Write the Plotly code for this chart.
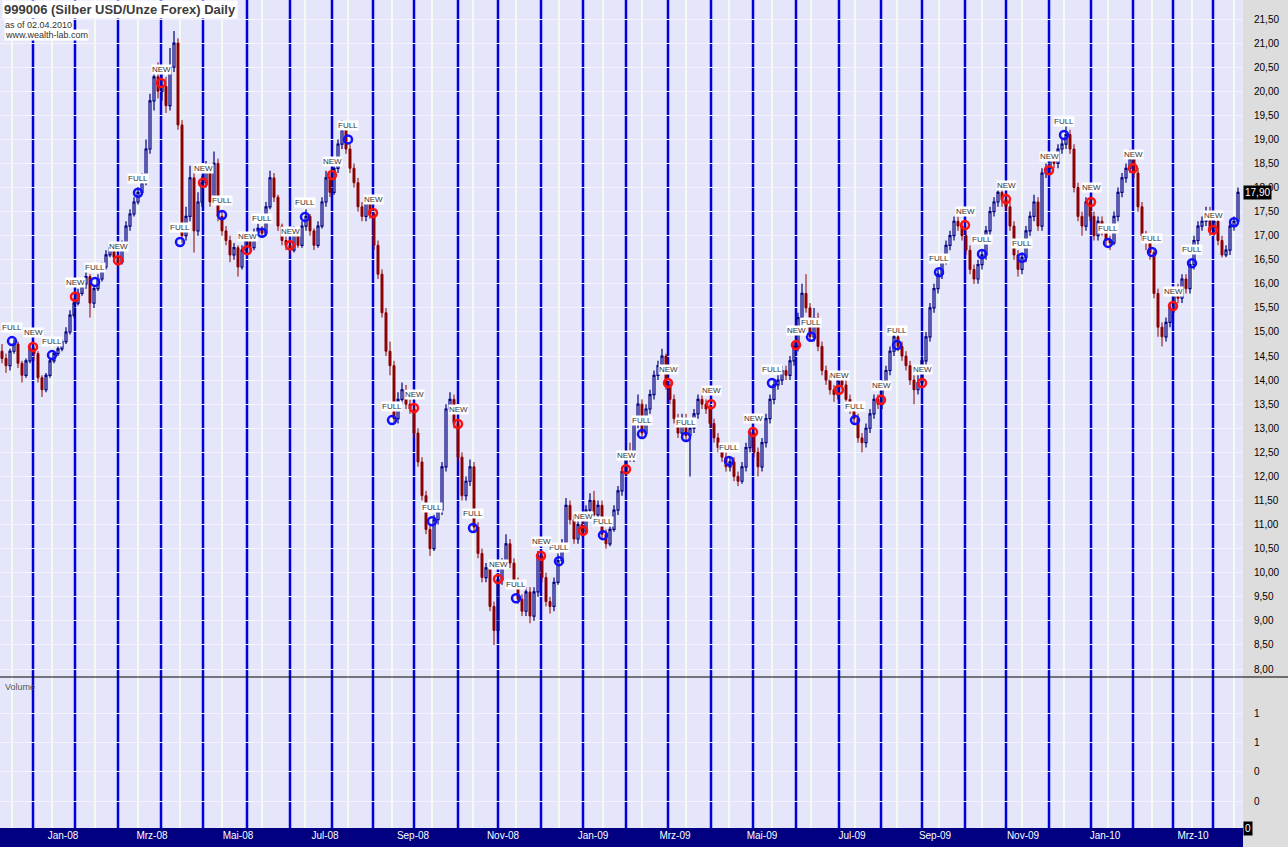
import plotly.graph_objects as go

# Silver daily chart (2-day bars), bar index on x
first_open = 14.60
closes = [
    14.45, 14.30, 14.60, 14.75, 14.35, 14.10, 14.40, 14.65, 14.55, 14.05,
    13.80, 14.10, 14.40, 14.55, 14.65, 14.80, 15.00, 15.35, 15.60, 15.80,
    16.00, 16.15, 15.60, 15.90, 16.10, 16.35, 16.60, 16.75, 16.55, 16.45,
    16.80, 17.20, 17.45, 17.70, 17.90, 18.10, 18.80, 19.80, 20.30, 20.00,
    20.10, 19.70, 20.50, 21.00, 19.30, 17.00, 17.40, 18.20, 17.10, 17.70,
    18.10, 18.40, 17.70, 18.50, 17.40, 17.10, 16.90, 16.60, 16.75, 16.35,
    16.70, 16.90, 16.75, 17.05, 17.15, 17.05, 17.60, 18.20, 17.80, 17.20,
    16.90, 16.80, 16.70, 17.10, 16.80, 17.20, 17.40, 17.10, 16.80, 17.20,
    17.70, 18.20, 17.90, 18.40, 18.90, 19.20, 18.80, 18.40, 18.10, 17.60,
    17.40, 17.70, 17.45, 16.80, 16.20, 15.40, 14.60, 14.30, 13.20, 13.60,
    13.80, 13.50, 13.40, 12.90, 12.30, 11.60, 10.90, 10.50, 11.10, 11.30,
    12.20, 13.40, 13.60, 13.10, 12.40, 11.60, 11.90, 12.20, 10.95, 10.40,
    9.90, 10.10, 9.30, 8.80, 9.85, 10.20, 10.60, 10.20, 9.80, 9.45,
    9.20, 9.60, 9.10, 9.60, 10.35, 9.90, 9.40, 9.30, 9.80, 10.25,
    10.60, 11.40, 11.10, 10.70, 11.00, 10.85, 11.30, 11.50, 11.20, 11.40,
    10.80, 10.60, 10.90, 11.30, 11.70, 12.10, 12.50, 12.40, 13.10, 13.50,
    12.90, 13.40, 13.70, 14.10, 14.30, 14.50, 13.90, 13.60, 13.20, 12.90,
    13.20, 12.85, 13.00, 13.30, 13.60, 13.50, 13.40, 13.10, 12.80, 12.60,
    12.40, 12.20, 12.30, 12.00, 11.90, 12.20, 12.60, 12.90, 12.50, 12.20,
    12.70, 13.20, 13.60, 13.90, 14.00, 14.20, 14.10, 14.40, 14.70, 15.30,
    15.80, 15.50, 14.90, 15.30, 14.70, 14.20, 14.00, 13.80, 13.70, 14.00,
    13.90, 13.60, 13.40, 13.20, 12.80, 12.70, 13.00, 13.30, 13.60, 13.50,
    13.90, 14.20, 14.60, 14.90, 14.70, 14.50, 14.30, 14.00, 13.80, 13.95,
    14.40, 14.90, 15.50, 15.90, 16.20, 16.50, 16.80, 17.00, 17.30, 17.20,
    17.00, 16.70, 16.30, 16.10, 16.40, 16.60, 17.10, 17.50, 17.70, 17.90,
    17.75, 17.60, 17.20, 16.60, 16.30, 16.55, 17.10, 17.40, 17.70, 17.20,
    18.30, 18.40, 18.60, 18.50, 18.80, 18.90, 19.10, 18.80, 18.00, 17.40,
    17.20, 17.70, 17.40, 17.00, 17.30, 17.10, 16.90, 16.85, 17.40, 17.90,
    18.20, 18.40, 18.60, 18.30, 17.60, 17.00, 16.90, 16.65, 15.80, 15.10,
    14.90, 15.20, 15.50, 15.80, 15.70, 16.10, 15.90, 16.40, 16.90, 17.20,
    17.30, 17.50, 17.10, 17.30, 16.90, 16.60, 16.70, 17.20, 17.30, 17.90,
]
highs = [
    14.75, 14.55, 14.65, 14.85, 14.80, 14.40, 14.45, 14.75, 14.70, 14.60,
    14.10, 14.15, 14.45, 14.60, 14.75, 14.85, 15.10, 15.45, 15.70, 15.90,
    16.10, 16.30, 16.20, 15.95, 16.20, 16.45, 16.70, 16.85, 16.80, 16.60,
    16.90, 17.30, 17.55, 17.80, 18.00, 18.30, 19.00, 19.95, 20.50, 20.60,
    20.50, 20.30, 20.90, 21.25, 21.10, 19.40, 17.60, 18.45, 18.30, 17.90,
    18.25, 18.55, 18.50, 18.75, 18.60, 17.50, 17.20, 17.00, 16.85, 16.80,
    16.80, 17.00, 16.95, 17.15, 17.25, 17.20, 17.70, 18.35, 18.30, 17.85,
    17.25, 17.00, 16.90, 17.20, 17.15, 17.30, 17.55, 17.45, 17.15, 17.30,
    17.80, 18.35, 18.30, 18.50, 19.00, 19.40, 19.30, 18.90, 18.50, 18.20,
    17.70, 17.80, 17.80, 17.50, 16.90, 16.30, 15.50, 14.80, 14.40, 13.75,
    13.95, 13.90, 13.60, 13.50, 13.00, 12.40, 11.70, 11.00, 11.20, 11.40,
    12.30, 13.50, 13.75, 13.70, 13.20, 12.50, 12.00, 12.35, 12.30, 11.05,
    10.50, 10.20, 10.20, 9.40, 9.95, 10.30, 10.80, 10.70, 10.30, 9.90,
    9.55, 9.70, 9.70, 9.70, 10.45, 10.40, 10.00, 9.50, 9.90, 10.40,
    10.70, 11.55, 11.50, 11.20, 11.10, 11.10, 11.40, 11.65, 11.70, 11.50,
    11.50, 10.90, 11.00, 11.40, 11.80, 12.20, 12.60, 12.70, 13.20, 13.70,
    13.60, 13.50, 13.80, 14.20, 14.40, 14.65, 14.55, 14.00, 13.70, 13.30,
    13.30, 13.30, 13.10, 13.40, 13.70, 13.70, 13.60, 13.50, 13.20, 12.90,
    12.70, 12.50, 12.40, 12.40, 12.10, 12.30, 12.70, 13.00, 13.00, 12.60,
    12.80, 13.30, 13.70, 14.00, 14.10, 14.30, 14.30, 14.50, 14.80, 15.40,
    16.00, 16.20, 15.60, 15.50, 15.40, 14.80, 14.30, 14.10, 13.90, 14.10,
    14.10, 14.00, 13.70, 13.50, 13.30, 12.90, 13.10, 13.40, 13.70, 13.70,
    14.00, 14.30, 14.70, 15.00, 15.00, 14.80, 14.60, 14.40, 14.10, 14.10,
    14.50, 15.00, 15.60, 16.00, 16.30, 16.60, 16.90, 17.10, 17.40, 17.40,
    17.30, 17.10, 16.80, 16.40, 16.50, 16.70, 17.20, 17.60, 17.80, 18.00,
    18.00, 17.90, 17.70, 17.30, 16.70, 16.65, 17.20, 17.50, 17.85, 17.80,
    18.40, 18.50, 18.70, 18.70, 18.90, 19.00, 19.30, 19.20, 18.90, 18.10,
    17.50, 17.80, 17.80, 17.50, 17.40, 17.40, 17.20, 17.00, 17.50, 18.00,
    18.30, 18.50, 18.80, 18.70, 18.40, 17.70, 17.10, 17.00, 16.70, 15.90,
    15.20, 15.30, 15.60, 15.90, 16.00, 16.20, 16.20, 16.50, 17.00, 17.30,
    17.40, 17.60, 17.60, 17.40, 17.40, 17.00, 16.80, 17.30, 17.40, 18.00,
]
lows = [
    14.35, 14.15, 14.20, 14.55, 14.25, 13.95, 14.05, 14.35, 14.40, 13.95,
    13.65, 13.75, 14.05, 14.35, 14.50, 14.60, 14.75, 14.95, 15.30, 15.55,
    15.75, 15.90, 15.30, 15.50, 15.85, 16.05, 16.30, 16.55, 16.45, 16.35,
    16.40, 16.75, 17.10, 17.40, 17.65, 17.85, 18.05, 18.70, 19.60, 19.85,
    19.80, 19.55, 19.60, 20.40, 19.20, 16.85, 16.90, 17.30, 16.65, 17.00,
    17.60, 18.00, 17.60, 17.65, 17.30, 17.00, 16.80, 16.45, 16.50, 16.15,
    16.30, 16.60, 16.65, 16.70, 17.00, 16.95, 17.00, 17.55, 17.70, 17.10,
    16.80, 16.70, 16.60, 16.65, 16.75, 16.75, 17.10, 17.00, 16.70, 16.75,
    17.15, 17.60, 17.80, 17.85, 18.30, 18.80, 18.70, 18.30, 18.00, 17.50,
    17.30, 17.30, 17.35, 16.70, 16.10, 15.30, 14.50, 14.10, 13.10, 13.10,
    13.50, 13.40, 13.30, 12.80, 12.20, 11.50, 10.80, 10.35, 10.45, 11.00,
    11.20, 12.10, 13.30, 13.00, 12.30, 11.50, 11.50, 11.80, 10.85, 10.30,
    9.80, 9.80, 9.20, 8.50, 8.70, 9.75, 10.10, 10.10, 9.70, 9.35,
    9.10, 9.10, 8.95, 9.00, 9.50, 9.80, 9.30, 9.15, 9.20, 9.75,
    10.20, 10.50, 11.00, 10.60, 10.60, 10.75, 10.80, 11.20, 11.10, 11.10,
    10.70, 10.50, 10.55, 10.85, 11.20, 11.60, 12.00, 12.30, 12.30, 13.00,
    12.80, 12.85, 13.30, 13.60, 14.00, 14.20, 13.80, 13.50, 13.10, 12.80,
    12.80, 12.75, 12.00, 12.90, 13.20, 13.40, 13.30, 13.00, 12.70, 12.50,
    12.30, 12.10, 12.10, 11.90, 11.80, 11.85, 12.10, 12.50, 12.40, 12.00,
    12.10, 12.60, 13.10, 13.50, 13.80, 13.90, 14.00, 14.00, 14.30, 14.60,
    15.20, 15.40, 14.80, 14.80, 14.60, 14.10, 13.90, 13.70, 13.55, 13.60,
    13.80, 13.50, 13.30, 13.10, 12.70, 12.50, 12.60, 12.90, 13.20, 13.40,
    13.40, 13.80, 14.10, 14.50, 14.60, 14.40, 14.20, 13.90, 13.50, 13.70,
    13.90, 14.30, 14.80, 15.40, 15.80, 16.10, 16.40, 16.70, 16.90, 17.10,
    16.90, 16.60, 16.20, 16.00, 16.00, 16.30, 16.50, 17.00, 17.40, 17.60,
    17.60, 17.50, 17.10, 16.50, 16.15, 16.20, 16.45, 17.00, 17.30, 17.10,
    17.10, 18.20, 18.30, 18.40, 18.40, 18.70, 18.80, 18.70, 17.90, 17.30,
    17.00, 17.10, 17.30, 16.90, 16.90, 17.00, 16.80, 16.70, 16.80, 17.30,
    17.80, 18.10, 18.30, 18.20, 17.50, 16.90, 16.70, 16.50, 15.70, 14.90,
    14.70, 14.80, 15.10, 15.40, 15.60, 15.60, 15.80, 15.80, 16.30, 16.80,
    17.10, 17.20, 17.00, 17.00, 16.80, 16.55, 16.55, 16.60, 17.10, 17.25,
]
opens = [first_open] + closes[:-1]
bars = list(range(len(closes)))

# moon phases (bar positions) and the price where each marker sits
new_moon_x = [7.75, 18.25, 29, 39.75, 50.25, 61.25, 72, 82.5, 92.75, 103, 114, 124, 134.75,
              145.25, 156, 166.5, 177.25, 187.75, 198.5, 209.25, 219.75, 230, 240.75, 251,
              261.75, 272.25, 282.75, 292.75, 302.75]
new_moon_price = [14.69, 15.73, 16.49, 20.17, 18.10, 16.70, 16.80, 18.26, 17.47, 13.42, 13.09,
                  9.87, 10.35, 10.87, 12.15, 13.94, 13.50, 12.92, 14.73, 13.80, 13.59, 13.94,
                  17.22, 17.76, 18.36, 17.70, 18.40, 15.54, 17.12]
full_moon_x = [2.5, 12.5, 23.25, 34, 44.5, 55, 65, 75.75, 86.5, 97.5, 107.5, 117.75, 128.5,
               139.25, 150.25, 160, 171, 181.75, 192.5, 202.25, 213.25, 223.75, 234.25, 245,
               255, 265.5, 276.5, 287.5, 297.5, 308]
full_moon_price = [14.81, 14.52, 16.04, 17.89, 16.87, 17.43, 17.06, 17.39, 19.00, 13.17, 11.07,
                   10.93, 9.47, 10.24, 10.78, 12.88, 12.82, 12.32, 13.94, 14.90, 13.17, 14.73,
                   16.24, 16.62, 16.54, 19.09, 16.85, 16.66, 16.43, 17.28]

month_pos = [15.25, 37.5, 59, 80.75, 102.75, 125.25, 147.75, 168.25, 190, 212.5, 233.25,
             255.25, 275.75, 297.75]
month_labels = ["Jan-08", "Mrz-08", "Mai-08", "Jul-08", "Sep-08", "Nov-08", "Jan-09",
                "Mrz-09", "Mai-09", "Jul-09", "Sep-09", "Nov-09", "Jan-10", "Mrz-10"]

price_ticks = [8 + 0.5 * k for k in range(28)]
vol_ticks = [0.2, 0.4, 0.6, 0.8]
vol_labels = ["0", "0", "1", "1"]

FONT = "Liberation Sans, Arial, sans-serif"
split = 151 / 828  # volume pane height share

fig = go.Figure()

fig.add_trace(
    go.Candlestick(
        x=bars, open=opens, high=highs, low=lows, close=closes,
        increasing=dict(line=dict(color="#000080", width=1.2), fillcolor="rgba(0,0,0,0)"),
        decreasing=dict(line=dict(color="#8b0000", width=1), fillcolor="#8b0000"),
        whiskerwidth=0, showlegend=False, hoverinfo="skip",
    )
)

fig.add_trace(
    go.Scatter(
        x=full_moon_x, y=full_moon_price, mode="markers", showlegend=False,
        marker=dict(symbol="circle-open", size=8, color="#1010ff", line=dict(width=2.5)),
    )
)
fig.add_trace(
    go.Scatter(
        x=new_moon_x, y=new_moon_price, mode="markers", showlegend=False,
        marker=dict(symbol="circle-open", size=8, color="#ff1010", line=dict(width=2.5)),
    )
)

# empty volume pane
fig.add_trace(go.Scatter(x=[], y=[], yaxis="y2", showlegend=False))

shapes = []
for x in full_moon_x:
    shapes.append(dict(type="line", xref="x", yref="paper", x0=x, x1=x, y0=0, y1=1,
                       line=dict(color="#f4fcf0", width=2), layer="below"))
for x in new_moon_x:
    shapes.append(dict(type="line", xref="x", yref="paper", x0=x, x1=x, y0=0, y1=1,
                       line=dict(color="#0000dd", width=2.5), layer="below"))
# pane separator
shapes.append(dict(type="line", xref="paper", yref="paper", x0=0, x1=1.04, y0=split, y1=split,
                   line=dict(color="black", width=1), layer="above"))
# navy date band
shapes.append(dict(type="rect", xref="paper", yref="paper", x0=0, x1=1, y0=-19 / 828, y1=0,
                   fillcolor="#000080", line=dict(width=0), layer="below"))

annotations = []
for x, p in zip(full_moon_x[:-1], full_moon_price[:-1]):
    annotations.append(dict(x=x, y=p, text="FULL", showarrow=False, yshift=14,
                            font=dict(size=8, color="#333333", family=FONT),
                            bgcolor="white", borderpad=0))
for x, p in zip(new_moon_x, new_moon_price):
    annotations.append(dict(x=x, y=p, text="NEW", showarrow=False, yshift=14,
                            font=dict(size=8, color="#333333", family=FONT),
                            bgcolor="white", borderpad=0))

annotations += [
    dict(xref="paper", yref="paper", x=0, y=1, xanchor="left", yanchor="top", showarrow=False,
         text="<b>999006 (Silber USD/Unze Forex) Daily</b>", bgcolor="white", borderpad=1,
         font=dict(size=13, color="#3c3c3c", family=FONT), xshift=2),
    dict(xref="paper", yref="paper", x=0, y=1, xanchor="left", yanchor="top", showarrow=False,
         text="as of 02.04.2010", bgcolor="white", borderpad=0, yshift=-19, xshift=4,
         font=dict(size=9, color="#333333", family=FONT)),
    dict(xref="paper", yref="paper", x=0, y=1, xanchor="left", yanchor="top", showarrow=False,
         text="www.wealth-lab.com", bgcolor="white", borderpad=0, yshift=-29, xshift=4,
         font=dict(size=9, color="#333333", family=FONT)),
    dict(xref="paper", yref="paper", x=0, y=split, xanchor="left", yanchor="top", showarrow=False,
         text="Volume", xshift=3, yshift=-3, font=dict(size=9, color="#555555", family=FONT)),
    dict(xref="paper", yref="y", x=1, y=closes[-1], xanchor="left", yanchor="middle",
         showarrow=False, text="17,90", bgcolor="black", borderpad=1,
         font=dict(size=10, color="white", family=FONT)),
    dict(xref="paper", yref="y2", x=1, y=0.015, xanchor="left", yanchor="middle",
         showarrow=False, text="0", bgcolor="black", borderpad=1,
         font=dict(size=10, color="white", family=FONT)),
]

fig.update_layout(
    width=1288, height=847,
    margin=dict(l=0, r=45, t=0, b=19),
    paper_bgcolor="#dddddd",
    plot_bgcolor="#e6e6fa",
    separators=",.",
    font=dict(family=FONT, size=10, color="black"),
    showlegend=False,
    shapes=shapes,
    annotations=annotations,
    xaxis=dict(
        range=[-0.5, 310.25], anchor="y2", rangeslider=dict(visible=False),
        tickvals=month_pos, ticktext=month_labels, tickfont=dict(color="white", size=10),
        showgrid=False, zeroline=False, ticks="", showline=False,
    ),
    yaxis=dict(
        domain=[split, 1], range=[7.834, 21.895], side="right",
        tickvals=price_ticks, tickformat=".2f", ticks="", ticklabelstandoff=10,
        gridcolor="#f3f3ff", gridwidth=1, zeroline=False, showline=False,
    ),
    yaxis2=dict(
        domain=[0, split], range=[0.015, 1.05], side="right",
        tickvals=vol_ticks, ticktext=vol_labels, ticks="", ticklabelstandoff=10,
        gridcolor="#f3f3ff", zeroline=False, showline=False,
    ),
)

# page body has a default 8px margin; drop it so the chart fills the window
fig.write_html(
    "out.html",
    config={"displayModeBar": False},
    post_script="document.body.style.margin='0';document.body.style.overflow='hidden';",
)
